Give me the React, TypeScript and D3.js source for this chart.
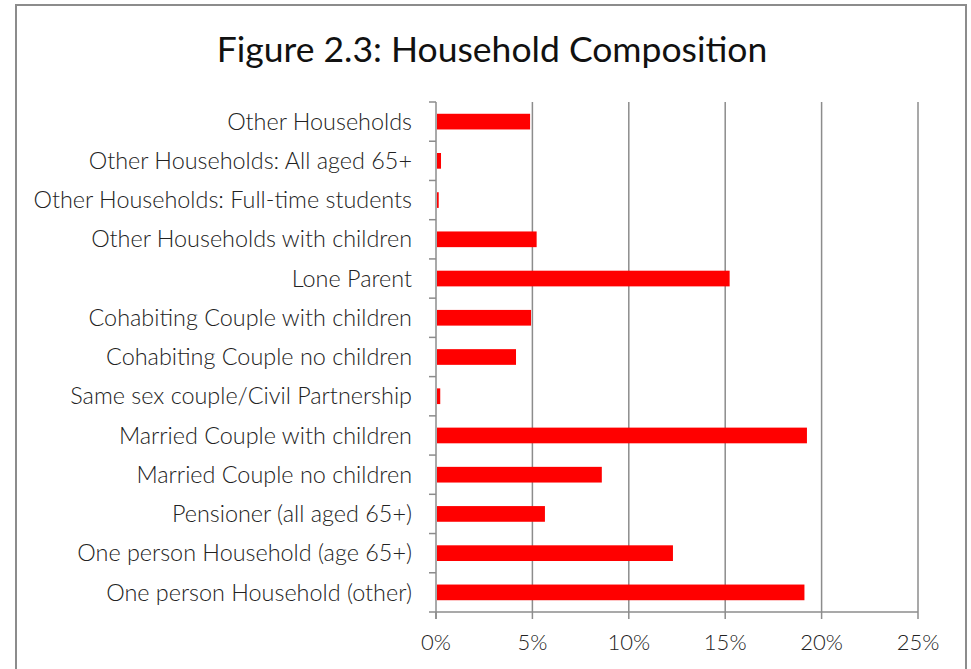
import { useEffect, useRef } from 'react'
import * as d3 from 'd3'

const categories = [
  'Other Households',
  'Other Households: All aged 65+',
  'Other Households: Full-time students',
  'Other Households with children',
  'Lone Parent ',
  'Cohabiting Couple with children',
  'Cohabiting Couple no children',
  'Same sex couple/Civil Partnership',
  'Married Couple with children',
  'Married Couple no children',
  'Pensioner (all aged 65+)',
  'One person Household (age 65+)',
  'One person Household (other)'
]

const shares = [4.88, 0.26, 0.14, 5.22, 15.23, 4.93, 4.15, 0.22, 19.24, 8.6, 5.65, 12.29, 19.11]

const xTicks = [0, 5, 10, 15, 20, 25]

const width = 971
const height = 669
const margin = { top: 102, right: 53, bottom: 57, left: 436 }
const font = "'Lato', 'Open Sans', sans-serif"

export default function App() {
  const svgRef = useRef<SVGSVGElement>(null)

  useEffect(() => {
    if (!svgRef.current) return
    const svg = d3.select(svgRef.current)
    svg.selectAll('*').remove()

    const innerW = width - margin.left - margin.right
    const innerH = height - margin.top - margin.bottom

    const x = d3.scaleLinear().domain([0, 25]).range([0, innerW])
    const y = d3.scaleBand().domain(categories).range([0, innerH]).paddingInner(0.6).paddingOuter(0.3)

    // outer frame
    svg.append('rect')
      .attr('x', 16).attr('y', 5)
      .attr('width', 950).attr('height', 720)
      .attr('fill', 'white')
      .attr('stroke', '#8c8c8c')
      .attr('stroke-width', 2)

    svg.append('text')
      .attr('x', 492).attr('y', 62)
      .attr('text-anchor', 'middle')
      .attr('font-family', font)
      .attr('font-size', 35.5)
      .attr('fill', '#111')
      .text('Figure 2.3: Household Composition')

    const g = svg.append('g').attr('transform', `translate(${margin.left},${margin.top})`)

    // gridlines
    g.selectAll('.grid')
      .data(xTicks.slice(1))
      .enter()
      .append('line')
      .attr('x1', d => x(d)).attr('x2', d => x(d))
      .attr('y1', 0).attr('y2', innerH)
      .attr('stroke', '#8c8c8c')
      .attr('stroke-width', 1.5)

    // bars
    g.selectAll('.bar')
      .data(categories.map((c, i) => ({ c, v: shares[i] })))
      .enter()
      .append('rect')
      .attr('x', x(0) + 1)
      .attr('y', d => y(d.c) || 0)
      .attr('width', d => x(d.v) - 1)
      .attr('height', y.bandwidth())
      .attr('fill', '#ff0000')

    // left axis
    const step = innerH / categories.length
    g.append('line')
      .attr('x1', 0).attr('x2', 0).attr('y1', 0).attr('y2', innerH + 7)
      .attr('stroke', '#8c8c8c').attr('stroke-width', 1.5)
    g.selectAll('.ytick')
      .data(d3.range(categories.length + 1))
      .enter()
      .append('line')
      .attr('x1', -7).attr('x2', 0)
      .attr('y1', d => d * step).attr('y2', d => d * step)
      .attr('stroke', '#8c8c8c').attr('stroke-width', 1.5)

    g.selectAll('.ylabel')
      .data(categories)
      .enter()
      .append('text')
      .attr('x', -24)
      .attr('y', d => (y(d) || 0) + y.bandwidth() / 2)
      .attr('dy', '0.35em')
      .attr('text-anchor', 'end')
      .attr('font-family', font)
      .attr('font-size', 23.4)
      .attr('font-weight', 300)
      .attr('fill', '#222')
      .text(d => d)

    // bottom axis
    g.append('line')
      .attr('x1', 0).attr('x2', x(25)).attr('y1', innerH).attr('y2', innerH)
      .attr('stroke', '#8c8c8c').attr('stroke-width', 1.5)
    g.selectAll('.xtick')
      .data(xTicks)
      .enter()
      .append('line')
      .attr('x1', d => x(d)).attr('x2', d => x(d))
      .attr('y1', innerH).attr('y2', innerH + 7)
      .attr('stroke', '#8c8c8c').attr('stroke-width', 1.5)
    g.selectAll('.xlabel')
      .data(xTicks)
      .enter()
      .append('text')
      .attr('x', d => x(d))
      .attr('y', innerH + 38)
      .attr('text-anchor', 'middle')
      .attr('font-family', font)
      .attr('font-size', 22)
      .attr('font-weight', 300)
      .attr('fill', '#222')
      .text(d => `${d}%`)
  }, [])

  return (
    <div style={{ position: 'absolute', left: 0, top: 0 }}>
      <svg ref={svgRef} width={width} height={height} style={{ display: 'block' }} />
    </div>
  )
}
